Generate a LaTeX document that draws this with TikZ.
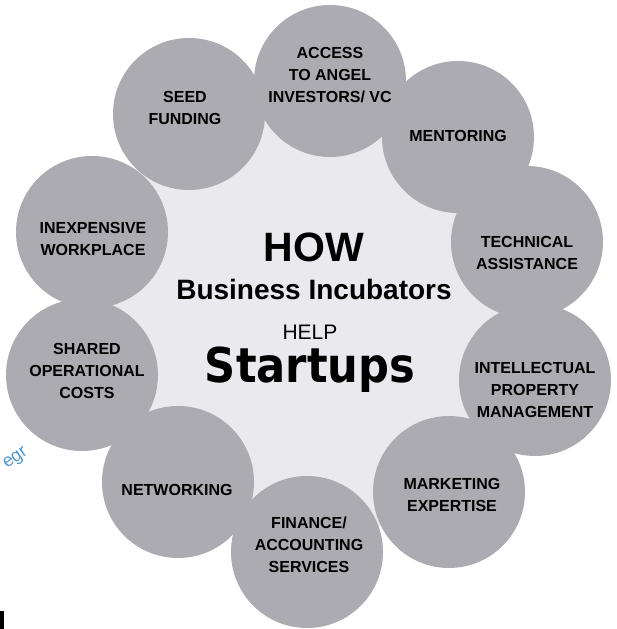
\documentclass[tikz,border=0pt]{standalone}
\usepackage{fontspec}
\setmainfont{Liberation Sans}
\newfontfamily\condfont{DejaVu Sans Condensed}
\definecolor{bubblegray}{RGB}{172,171,178}
\definecolor{hubgray}{RGB}{234,234,238}
\definecolor{markblue}{RGB}{80,150,215}
\begin{document}
\begin{tikzpicture}[x=1pt,y=1pt,
		bubble/.style={circle,fill=bubblegray,minimum size=152pt,inner sep=0pt},
		bubbletext/.style={align=center,font=\fontsize{16}{22}\selectfont\bfseries}]
		\useasboundingbox[fill=white] (0,0) rectangle (617,629);
		\node[circle,fill=hubgray,minimum size=452pt] (hub) at (312,319) {};
		
		\node[bubble] (access) at (330,548) {};
		\node[bubble] (mentor) at (458,492) {};
		\node[bubble] (tech) at (527,387) {};
		\node[bubble] (ip) at (535,249) {};
		\node[bubble] (market) at (449,137) {};
		\node[bubble] (finance) at (307,77) {};
		\node[bubble] (network) at (178,147) {};
		\node[bubble] (shared) at (82,254) {};
		\node[bubble] (work) at (92,397) {};
		\node[bubble] (seed) at (189,515) {};
		
		\node[bubbletext] (accesstext) at (330,554) {ACCESS\\TO ANGEL\\INVESTORS/ VC};
		\node[bubbletext] (mentortext) at (458,493) {MENTORING};
		\node[bubbletext] (techtext) at (527,376) {TECHNICAL\\ASSISTANCE};
		\node[bubbletext] (iptext) at (535,239) {INTELLECTUAL\\PROPERTY\\MANAGEMENT};
		\node[bubbletext] (markettext) at (452,134) {MARKETING\\EXPERTISE};
		\node[bubbletext] (financetext) at (309,84) {FINANCE/\\ACCOUNTING\\SERVICES};
		\node[bubbletext] (networktext) at (177,139) {NETWORKING};
		\node[bubbletext] (sharedtext) at (87,258) {SHARED\\OPERATIONAL\\COSTS};
		\node[bubbletext] (worktext) at (93,390) {INEXPENSIVE\\WORKPLACE};
		\node[bubbletext] (seedtext) at (185,521) {SEED\\FUNDING};
		
		\node[anchor=base,inner sep=1pt,font=\fontsize{41}{41}\selectfont\bfseries] (how) at (314,367) {HOW};
		\node[anchor=base,inner sep=1pt,font=\fontsize{28}{28}\selectfont\bfseries] (incub) at (314,329) {Business Incubators};
		\node[anchor=base,inner sep=1pt,font=\fontsize{21}{21}\selectfont] (help) at (310,289) {HELP};
		\node[anchor=base,inner sep=1pt,font=\fontsize{48}{48}\selectfont\condfont\bfseries] (startups) at (310,246) {Startups};
		
		\node[rotate=35,inner sep=0pt,text=markblue,font=\fontsize{18}{18}\selectfont] (egr) at (16,170) {egr};
		\fill[black] (0,0) rectangle (4,18);
	\end{tikzpicture}
\end{document}
